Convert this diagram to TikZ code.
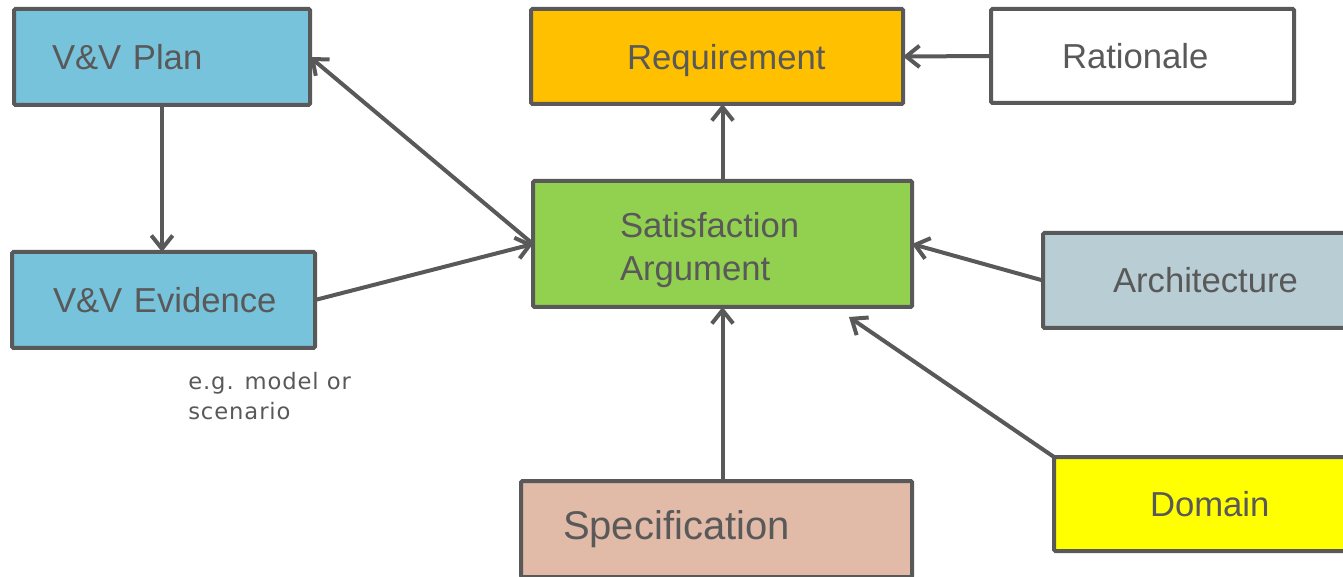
\documentclass[tikz,border=0pt]{standalone}
\usepackage{fontspec}
\setmainfont{Liberation Sans}
\newfontfamily\notefont{DejaVu Sans}[LetterSpace=4]
\usetikzlibrary{arrows.meta}

\definecolor{lineGrey}{RGB}{89,89,89}
\definecolor{vvBlue}{RGB}{120,195,220}
\definecolor{reqOrange}{RGB}{255,192,0}
\definecolor{satGreen}{RGB}{146,208,80}
\definecolor{archGrey}{RGB}{185,205,213}
\definecolor{domYellow}{RGB}{255,255,0}
\definecolor{specSalmon}{RGB}{225,186,168}

\tikzset{
  box/.style={draw=lineGrey, line width=3pt, rounded corners=1pt, text=lineGrey,
    anchor=north west, outer sep=0pt, inner xsep=0pt, inner ysep=0pt, align=left,
    font=\fontsize{26}{32}\selectfont},
  arr/.style={draw=lineGrey, line width=3pt, -{Straight Barb[length=10pt,width=16pt]}},
  note/.style={text=lineGrey, anchor=north west, inner sep=0pt, align=left,
    font=\notefont\fontsize{17}{22.5}\selectfont}
}

\begin{document}
\begin{tikzpicture}[x=0.75pt,y=0.75pt,yscale=-1,xscale=1]
\useasboundingbox (0,0) rectangle (1343,577);

%Shape: Rectangle [V&V side]
\node[box, fill=vvBlue, minimum width=222pt, minimum height=72pt, text width=165pt] (plan) at (14,9) {V\&V Plan};
\node[box, fill=vvBlue, minimum width=227.25pt, minimum height=72pt, text width=165.75pt] (evid) at (12,252) {\mbox{V\&V Evidence}};

%Shape: Rectangle [top row]
\node[box, fill=reqOrange, minimum width=279pt, minimum height=71.25pt, text width=135pt, text depth=0pt] (req) at (531,9) {Requirement};
\node[box, fill=white, minimum width=227.25pt, minimum height=70.5pt, text width=120.75pt] (rat) at (991,9) {Rationale};

%Shape: Rectangle [middle]
\node[box, fill=satGreen, minimum width=284.25pt, minimum height=94.5pt, text width=153.75pt, text depth=28.5pt] (sat) at (533,181) {Satisfaction\\Argument};
\node[box, fill=archGrey, minimum width=241.5pt, minimum height=71.25pt, text width=136.5pt] (arch) at (1043,233) {Architecture};

%Shape: Rectangle [bottom]
\node[box, fill=specSalmon, minimum width=293.25pt, minimum height=72pt, text width=230.25pt,
  font=\fontsize{30}{36}\selectfont] (spec) at (521,481) {Specification};
\node[box, fill=domYellow, minimum width=233.25pt, minimum height=70.5pt, text width=89.25pt] (dom) at (1054,457) {Domain};

% Text Node
\node[note] (egnote) at (188,372) {e.g. model or\\scenario};

%Straight Lines
\coordinate (domtip) at (849,317);
\draw[arr] (plan.south) -- (plan.south |- evid.north);
\draw[arr] (evid.east) -- (sat.west);
\draw[arr] (sat.west) -- (plan.east);
\draw[arr] (sat.north) -- (sat.north |- req.south);
\draw[arr] (rat.west) -- (req.east);
\draw[arr] (arch.west) -- (sat.east);
\draw[arr] (dom.north west) -- (domtip);
\draw[arr] (sat.south |- spec.north) -- (sat.south);

\end{tikzpicture}
\end{document}
